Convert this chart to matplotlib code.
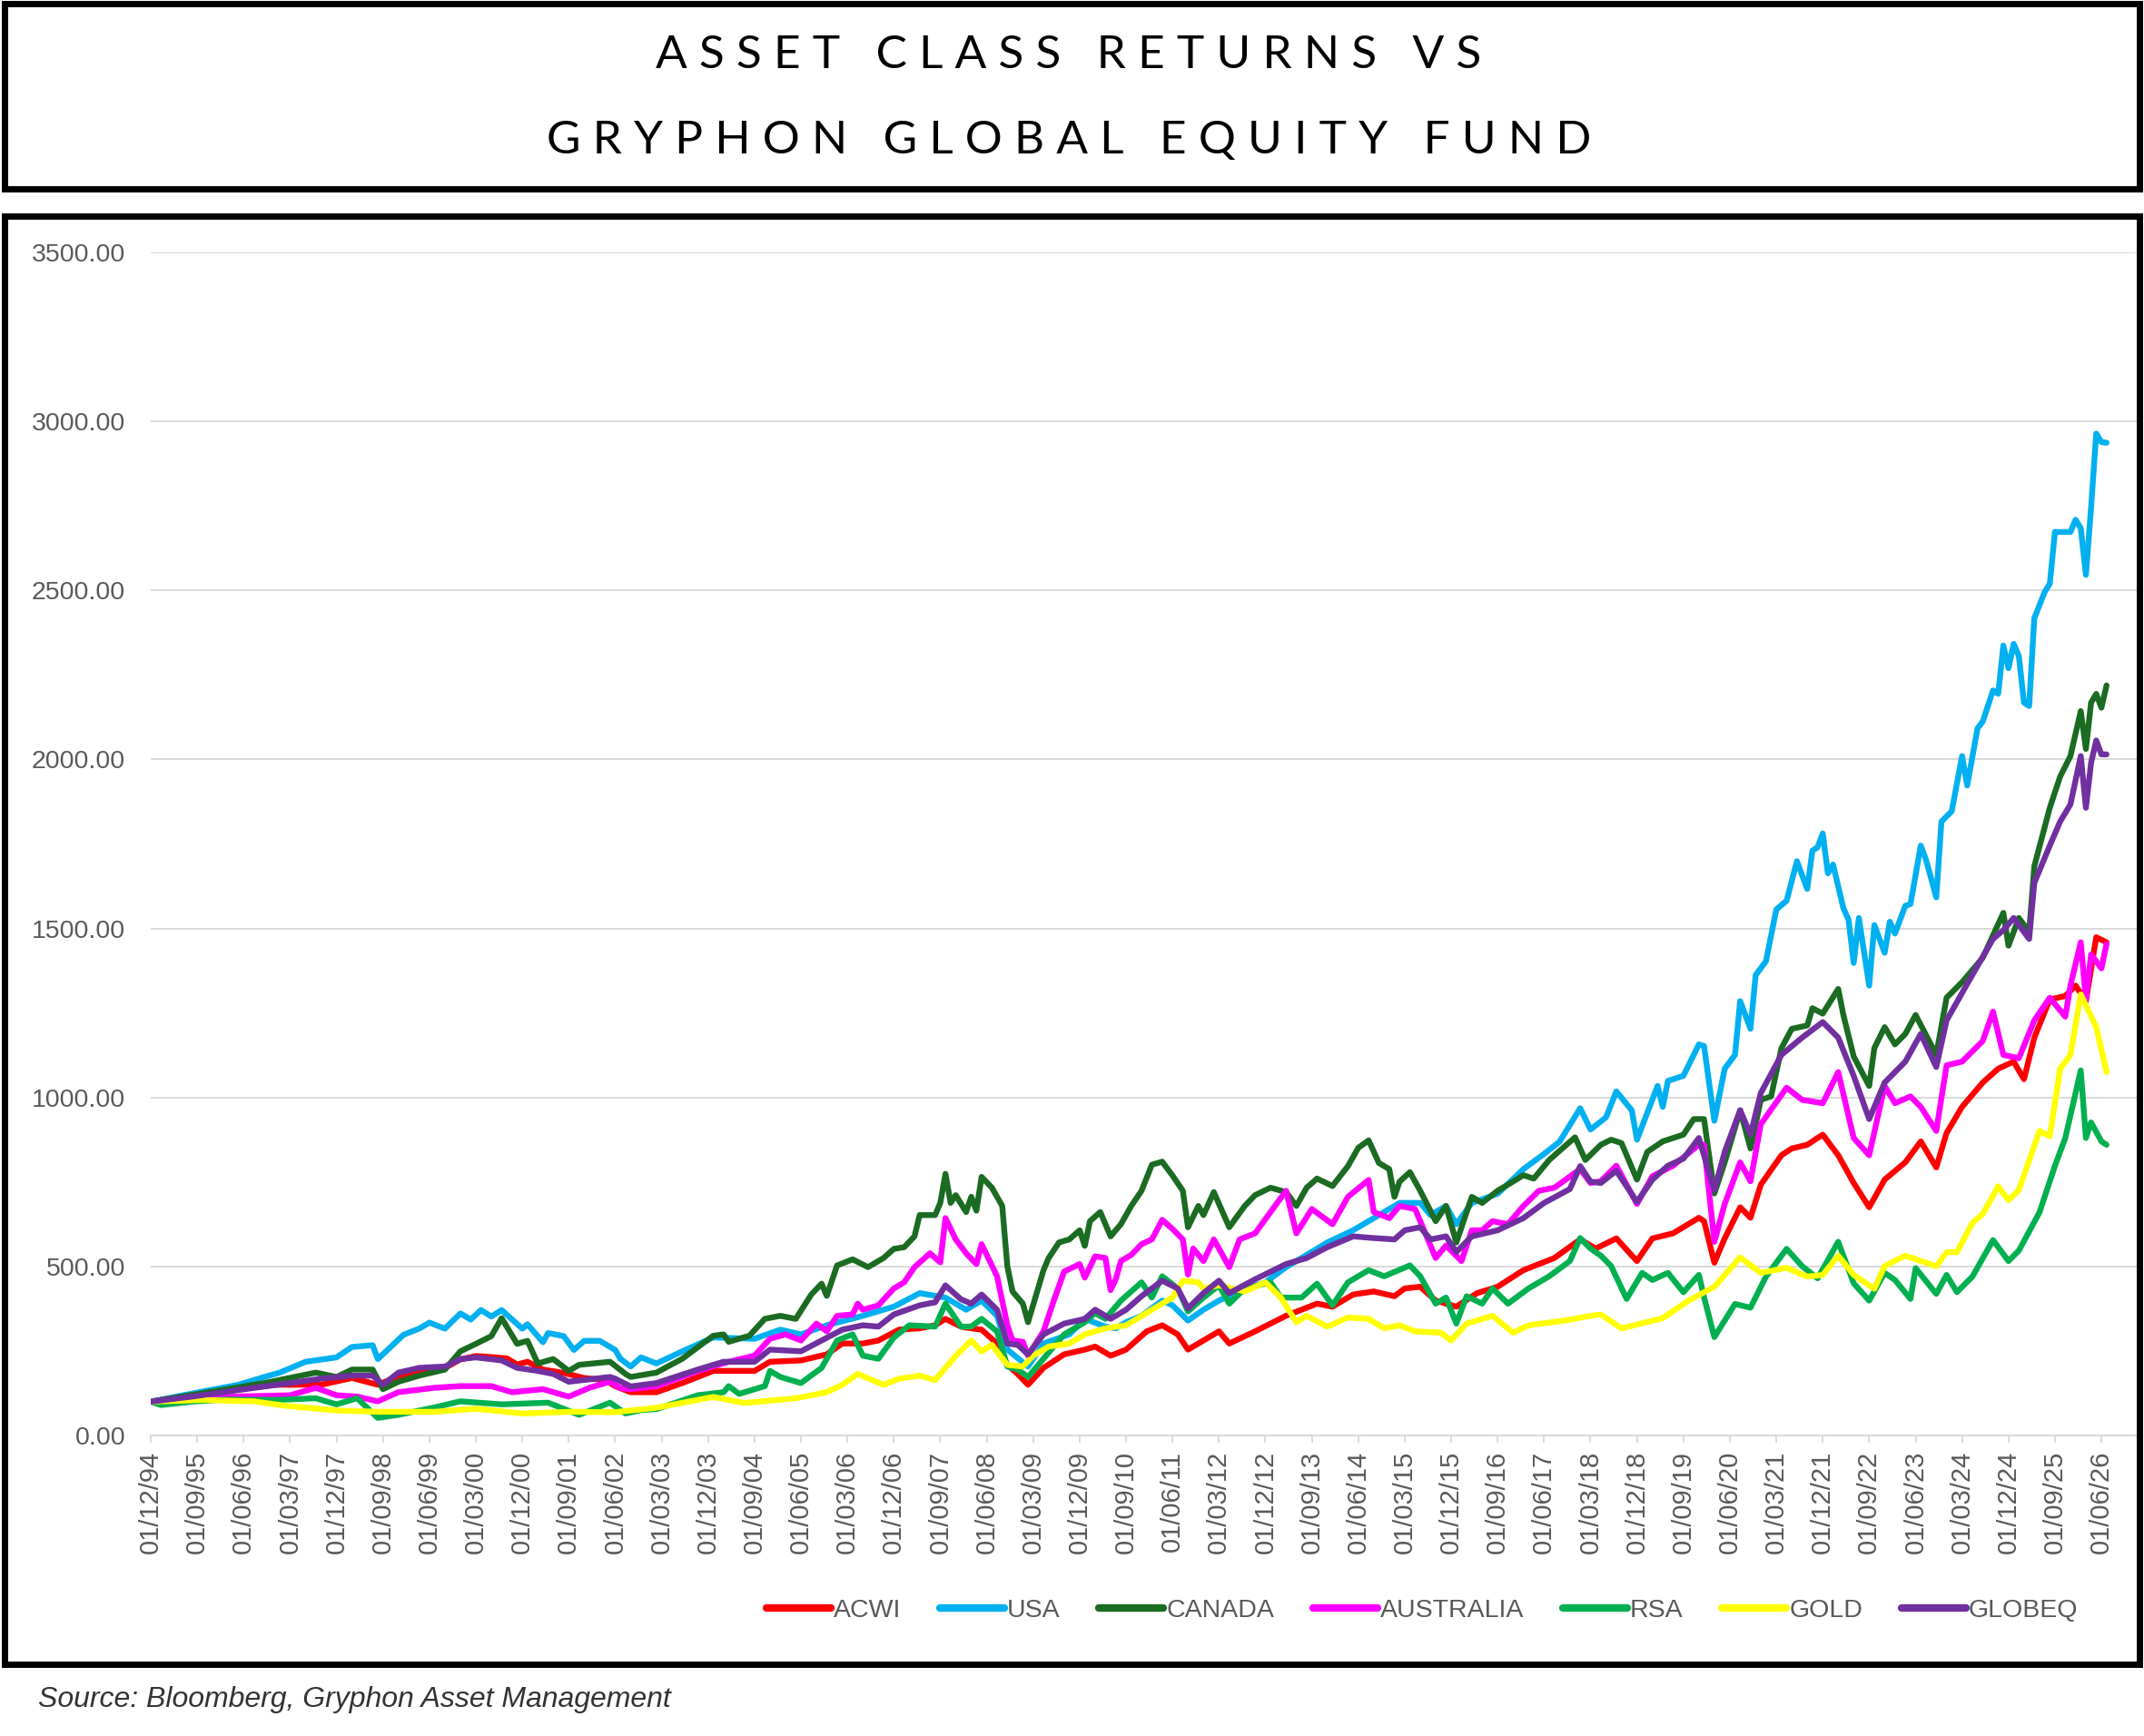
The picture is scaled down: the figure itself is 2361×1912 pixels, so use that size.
import matplotlib
matplotlib.use("Agg")
import matplotlib.pyplot as plt
from matplotlib.patches import Rectangle
from matplotlib.ticker import FuncFormatter

plt.rcParams["font.family"] = ["Liberation Sans", "DejaVu Sans"]

# values, as (months since Dec 1994, index level)
ACWI = [(0, 100), (8, 120), (16, 135), (24, 150), (33, 150), (39, 170), (44, 150), (48, 175),
        (52, 190), (57, 200), (60, 225), (63, 235), (66, 232), (69, 228), (71, 210), (73, 218),
        (76, 195), (80, 185), (84, 170), (88, 164), (90, 146), (93, 128), (98, 128), (103, 155),
        (109, 191), (117, 191), (120, 218), (126, 222), (131, 240), (134, 272), (138, 272),
        (141, 281), (145, 313), (149, 317), (152, 326), (154, 345), (157, 322), (159, 317),
        (161, 313), (164, 272), (166, 209), (168, 182), (170, 150), (173, 200), (177, 240),
        (181, 254), (183, 263), (186, 236), (189, 254), (193, 308), (196, 326), (199, 299),
        (201, 254), (204, 281), (207, 308), (209, 272), (214, 308), (220, 354), (226, 390),
        (229, 381), (233, 417), (237, 426), (241, 412), (243, 435), (246, 440), (249, 399),
        (253, 381), (257, 421), (261, 440), (266, 489), (272, 525), (277, 580), (280, 553),
        (284, 583), (288, 516), (291, 583), (295, 598), (300, 644), (301, 634), (303, 511),
        (305, 583), (308, 675), (310, 644), (312, 742), (316, 829), (318, 849), (321, 860),
        (324, 890), (327, 829), (330, 747), (333, 675), (336, 757), (340, 808), (343, 870),
        (346, 793), (348, 895), (351, 972), (355, 1044), (358, 1085), (361, 1106), (363, 1054),
        (365, 1177), (368, 1290), (371, 1300), (373, 1331), (375, 1285), (377, 1474), (379, 1459)]

USA = [(0, 100), (8, 124), (17, 150), (22, 173), (25, 186), (30, 218), (36, 231), (39, 262),
       (43, 267), (44, 226), (49, 298), (52, 316), (54, 334), (57, 316), (60, 361), (62, 343),
       (64, 371), (66, 352), (68, 371), (72, 316), (73, 329), (76, 276), (77, 303), (80, 294),
       (82, 253), (84, 280), (87, 280), (90, 253), (91, 227), (93, 204), (95, 231), (98, 213),
       (103, 249), (109, 290), (117, 286), (122, 313), (126, 299), (131, 326), (138, 354),
       (144, 381), (149, 421), (154, 408), (158, 372), (161, 399), (164, 354), (166, 254),
       (170, 204), (173, 272), (178, 299), (181, 345), (185, 322), (187, 317), (189, 335),
       (192, 354), (196, 399), (198, 385), (201, 340), (204, 372), (207, 399), (211, 426),
       (216, 453), (220, 498), (223, 525), (228, 571), (233, 607), (237, 643), (242, 688),
       (246, 688), (248, 652), (251, 679), (253, 625), (256, 688), (261, 715), (266, 788),
       (270, 833), (273, 869), (277, 968), (279, 905), (282, 941), (284, 1018), (287, 962),
       (288, 875), (292, 1034), (293, 972), (294, 1049), (297, 1064), (300, 1157), (301, 1152),
       (303, 931), (305, 1085), (307, 1126), (308, 1285), (310, 1203), (311, 1362), (313, 1403),
       (315, 1556), (317, 1582), (319, 1699), (321, 1617), (322, 1730), (323, 1740), (324, 1781),
       (325, 1663), (326, 1689), (328, 1560), (329, 1526), (330, 1398), (331, 1531), (333, 1331),
       (334, 1510), (336, 1428), (337, 1520), (338, 1485), (340, 1567), (341, 1572), (343, 1745),
       (344, 1704), (346, 1592), (347, 1816), (349, 1847), (351, 2010), (352, 1923), (354, 2092),
       (355, 2112), (357, 2204), (358, 2194), (359, 2337), (360, 2270), (361, 2342), (362, 2306),
       (363, 2168), (364, 2158), (365, 2418), (367, 2495), (368, 2520), (369, 2673), (372, 2673),
       (373, 2709), (374, 2684), (375, 2546), (376, 2745), (377, 2964), (378, 2939), (379, 2937)]

CANADA = [(0, 100), (8, 120), (16, 140), (22, 155), (32, 186), (36, 173), (39, 195), (43, 195),
          (45, 137), (48, 159), (52, 177), (57, 195), (60, 249), (63, 271), (66, 294), (68, 347),
          (71, 271), (73, 280), (75, 213), (78, 226), (81, 191), (83, 209), (89, 218), (92, 182),
          (93, 173), (98, 186), (103, 227), (109, 295), (111, 299), (112, 277), (116, 295),
          (119, 345), (122, 354), (125, 345), (128, 417), (130, 449), (131, 413), (133, 503),
          (136, 521), (139, 498), (142, 525), (144, 552), (146, 557), (148, 589), (149, 652),
          (152, 652), (153, 688), (154, 774), (155, 688), (156, 711), (158, 661), (159, 706),
          (160, 665), (161, 765), (163, 733), (165, 679), (166, 500), (167, 426), (169, 390),
          (170, 335), (173, 489), (174, 525), (176, 571), (178, 580), (180, 607), (181, 561),
          (182, 634), (184, 661), (186, 589), (188, 625), (190, 679), (192, 724), (194, 801),
          (196, 810), (198, 769), (200, 724), (201, 616), (203, 679), (204, 652), (206, 720),
          (209, 616), (212, 679), (214, 711), (217, 733), (220, 720), (222, 679), (224, 733),
          (226, 760), (229, 738), (232, 797), (234, 851), (236, 873), (238, 806), (240, 788),
          (241, 706), (242, 751), (244, 779), (246, 724), (249, 634), (251, 679), (253, 571),
          (256, 706), (258, 688), (261, 724), (263, 742), (266, 770), (268, 760), (271, 815),
          (273, 842), (276, 882), (278, 815), (281, 860), (283, 875), (285, 865), (288, 757),
          (290, 839), (293, 870), (297, 890), (299, 936), (301, 936), (303, 716), (305, 808),
          (308, 962), (310, 849), (312, 993), (314, 1003), (316, 1146), (318, 1203), (321, 1213),
          (322, 1264), (324, 1248), (327, 1321), (328, 1244), (330, 1121), (333, 1034), (334, 1146),
          (336, 1208), (338, 1157), (340, 1188), (342, 1244), (346, 1126), (348, 1295), (351, 1341),
          (355, 1413), (359, 1546), (360, 1449), (362, 1531), (364, 1490), (365, 1684), (368, 1857),
          (370, 1949), (372, 2010), (374, 2143), (375, 2031), (376, 2168), (377, 2194), (378, 2153),
          (379, 2219)]

AUSTRALIA = [(0, 100), (8, 108), (16, 115), (24, 118), (27, 119), (32, 141), (36, 119), (40, 115),
             (44, 101), (48, 128), (55, 141), (60, 146), (66, 146), (70, 128), (76, 137), (81, 115),
             (85, 141), (89, 159), (91, 140), (93, 137), (98, 146), (106, 191), (112, 218), (117, 236),
             (120, 286), (123, 299), (126, 281), (129, 331), (131, 308), (133, 354), (136, 358),
             (137, 390), (138, 372), (141, 385), (144, 435), (146, 453), (148, 498), (151, 539),
             (153, 512), (154, 643), (156, 580), (158, 539), (160, 507), (161, 566), (164, 471),
             (166, 326), (167, 281), (169, 277), (170, 236), (173, 308), (175, 399), (177, 485),
             (180, 507), (181, 467), (183, 530), (185, 525), (186, 430), (187, 462), (188, 516),
             (190, 534), (192, 566), (194, 580), (196, 638), (198, 611), (200, 580), (201, 476),
             (202, 553), (204, 516), (206, 580), (207, 553), (209, 498), (211, 580), (214, 598),
             (217, 661), (220, 724), (222, 598), (225, 670), (229, 625), (232, 706), (236, 756),
             (237, 661), (240, 643), (242, 679), (245, 670), (246, 634), (249, 525), (251, 562),
             (254, 516), (256, 607), (258, 607), (260, 634), (263, 625), (266, 679), (269, 724),
             (272, 733), (277, 788), (279, 747), (281, 752), (284, 798), (288, 685), (291, 767),
             (295, 798), (300, 860), (301, 860), (303, 573), (305, 685), (308, 808), (310, 752),
             (312, 921), (317, 1029), (320, 993), (324, 983), (327, 1075), (330, 880), (333, 829),
             (336, 1034), (338, 983), (341, 1003), (343, 972), (346, 901), (348, 1095), (351, 1106),
             (355, 1167), (357, 1254), (359, 1126), (362, 1116), (365, 1228), (368, 1295),
             (371, 1239), (372, 1331), (374, 1459), (375, 1290), (376, 1423), (378, 1382), (379, 1454)]

RSA = [(0, 100), (2, 90), (8, 100), (14, 106), (24, 105), (32, 110), (36, 92), (40, 110), (44, 52),
       (48, 61), (55, 83), (60, 101), (68, 92), (77, 97), (83, 61), (89, 97), (92, 65), (95, 75),
       (98, 78), (106, 119), (111, 128), (112, 146), (114, 123), (119, 146), (120, 191), (122, 173),
       (126, 155), (130, 200), (133, 281), (136, 299), (138, 236), (141, 227), (144, 290),
       (147, 326), (152, 322), (154, 390), (157, 322), (159, 322), (161, 345), (164, 308),
       (166, 204), (168, 195), (170, 173), (173, 227), (177, 299), (181, 335), (183, 362),
       (185, 345), (188, 399), (192, 453), (194, 408), (196, 471), (199, 435), (201, 367),
       (204, 408), (207, 444), (209, 390), (212, 435), (217, 453), (219, 408), (223, 408),
       (226, 449), (229, 385), (232, 453), (236, 489), (239, 471), (244, 503), (246, 471),
       (249, 390), (251, 408), (253, 331), (255, 412), (258, 390), (260, 435), (263, 390),
       (267, 435), (271, 471), (275, 516), (277, 584), (279, 553), (281, 532), (283, 501),
       (286, 404), (289, 481), (291, 460), (294, 481), (297, 424), (300, 475), (301, 409),
       (303, 291), (307, 389), (310, 378), (313, 470), (317, 552), (320, 501), (323, 465),
       (327, 573), (330, 450), (333, 399), (336, 481), (338, 460), (341, 404), (342, 495),
       (346, 419), (348, 475), (350, 424), (353, 470), (357, 578), (360, 516), (362, 547),
       (366, 660), (369, 798), (371, 880), (374, 1080), (375, 880), (376, 926), (378, 870), (379, 860)]

GOLD = [(0, 100), (10, 105), (20, 101), (26, 88), (36, 74), (44, 70), (55, 70), (63, 79), (72, 65),
        (81, 70), (90, 69), (98, 82), (109, 114), (115, 96), (125, 110), (131, 128), (134, 150),
        (137, 182), (142, 150), (145, 168), (149, 177), (152, 164), (156, 236), (159, 281),
        (161, 249), (163, 268), (166, 209), (169, 204), (171, 236), (174, 263), (178, 272),
        (181, 299), (185, 317), (189, 326), (194, 372), (198, 408), (200, 458), (203, 453),
        (204, 435), (207, 444), (212, 426), (216, 453), (219, 408), (222, 335), (224, 354),
        (228, 322), (232, 349), (236, 345), (239, 317), (242, 326), (245, 308), (250, 304),
        (252, 281), (255, 331), (260, 354), (264, 304), (267, 326), (274, 340), (279, 354),
        (281, 358), (285, 317), (293, 347), (298, 399), (303, 440), (308, 527), (312, 481),
        (317, 496), (321, 470), (324, 475), (327, 532), (330, 475), (334, 434), (336, 501),
        (340, 532), (343, 516), (346, 501), (348, 542), (350, 542), (353, 629), (355, 655),
        (358, 737), (360, 696), (362, 726), (366, 901), (368, 885), (370, 1085), (372, 1126),
        (374, 1305), (377, 1208), (379, 1075)]

GLOBEQ = [(0, 100), (8, 115), (14, 128), (22, 145), (27, 155), (33, 168), (39, 177), (43, 177),
          (45, 150), (48, 186), (52, 200), (57, 204), (60, 226), (63, 231), (68, 222), (71, 200),
          (75, 191), (78, 182), (81, 159), (89, 173), (90, 168), (93, 145), (98, 155), (106, 195),
          (111, 218), (117, 218), (120, 254), (126, 249), (130, 281), (134, 313), (138, 326),
          (141, 322), (144, 358), (149, 385), (152, 394), (154, 444), (157, 403), (159, 390),
          (161, 417), (164, 372), (166, 272), (168, 268), (170, 240), (173, 299), (177, 331),
          (181, 345), (183, 372), (186, 345), (189, 372), (192, 412), (196, 458), (199, 435),
          (201, 376), (204, 421), (207, 458), (209, 421), (214, 462), (220, 507), (224, 525),
          (228, 557), (233, 589), (237, 584), (241, 580), (243, 607), (246, 616), (248, 580),
          (251, 589), (253, 543), (256, 589), (261, 607), (266, 643), (270, 688), (275, 729),
          (277, 797), (279, 751), (281, 747), (284, 783), (288, 691), (291, 757), (294, 798),
          (297, 819), (300, 880), (303, 726), (305, 839), (308, 962), (310, 890), (312, 1013),
          (316, 1126), (320, 1177), (324, 1223), (327, 1177), (330, 1064), (333, 936), (336, 1044),
          (340, 1106), (343, 1188), (346, 1090), (348, 1228), (352, 1336), (357, 1469), (359, 1495),
          (361, 1531), (364, 1469), (365, 1635), (368, 1745), (370, 1816), (372, 1867), (374, 2010),
          (375, 1857), (376, 1990), (377, 2056), (378, 2015), (379, 2015)]

SERIES = ["ACWI", "USA", "CANADA", "AUSTRALIA", "RSA", "GOLD", "GLOBEQ"]
DATA = [ACWI, USA, CANADA, AUSTRALIA, RSA, GOLD, GLOBEQ]
COLORS = ["#FF0000", "#00B0F0", "#1B6B22", "#FF00FF", "#00B050", "#FFFF00", "#7030A0"]

TICK_LABELS = ["01/12/94", "01/09/95", "01/06/96", "01/03/97", "01/12/97", "01/09/98", "01/06/99",
               "01/03/00", "01/12/00", "01/09/01", "01/06/02", "01/03/03", "01/12/03", "01/09/04",
               "01/06/05", "01/03/06", "01/12/06", "01/09/07", "01/06/08", "01/03/09", "01/12/09",
               "01/09/10", "01/06/11", "01/03/12", "01/12/12", "01/09/13", "01/06/14", "01/03/15",
               "01/12/15", "01/09/16", "01/06/17", "01/03/18", "01/12/18", "01/09/19", "01/06/20",
               "01/03/21", "01/12/21", "01/09/22", "01/06/23", "01/03/24", "01/12/24", "01/09/25",
               "01/06/26"]
TICK_STEP = 9  # one label every 9 months

TITLE_1 = "ASSET CLASS RETURNS VS"
TITLE_2 = "GRYPHON GLOBAL EQUITY FUND"
SOURCE = "Source: Bloomberg, Gryphon Asset Management"

W, H = 2361, 1912
GRID = "#D9D9D9"
TEXT = "#595959"


def spaced(text):
    return "   ".join(" ".join(word) for word in text.split())


def fx(px):
    return px / W


def fy(px):
    return 1 - px / H


fig = plt.figure(figsize=(W / 100, H / 100), dpi=100)

ax = fig.add_axes([fx(166), fy(1581), fx(2355 - 166), (1581 - 278) / H])
for name, pts, color in zip(SERIES, DATA, COLORS):
    months = [p[0] for p in pts]
    values = [p[1] for p in pts]
    ax.plot(months, values, color=color, lw=4.6, label=name,
            solid_joinstyle="round", solid_capstyle="round")

ax.set_xlim(0, 385.2)
ax.set_ylim(0, 3500)
ax.set_yticks(range(0, 3501, 500))
ax.yaxis.set_major_formatter(FuncFormatter(lambda v, _: f"{v:.2f}"))
ax.set_xticks([i * TICK_STEP for i in range(len(TICK_LABELS))])
ax.set_xticklabels(TICK_LABELS, rotation=90)
ax.yaxis.grid(True, color=GRID, lw=1.4)
ax.set_axisbelow(True)
for side in ["left", "right", "top"]:
    ax.spines[side].set_visible(False)
ax.spines["bottom"].set_color(GRID)
ax.spines["bottom"].set_linewidth(1.6)
ax.tick_params(axis="y", length=0, pad=20, labelsize=20.5, labelcolor=TEXT)
ax.tick_params(axis="x", length=6, width=1.3, color=GRID, pad=6, labelsize=21, labelcolor=TEXT)

leg = fig.legend(*ax.get_legend_handles_labels(), loc="center", bbox_to_anchor=(fx(1566), fy(1774)),
                 ncol=7, frameon=False, fontsize=20.5, labelcolor=TEXT, handlelength=2.5,
                 handletextpad=0.1, columnspacing=1.5)
for line in leg.get_lines():
    line.set_linewidth(6)

# boxed title and chart frame
fig.add_artist(Rectangle((fx(5), fy(208)), fx(2351), (208 - 4) / H, transform=fig.transFigure,
                         fill=False, ec="black", lw=5, zorder=10))
fig.add_artist(Rectangle((fx(5), fy(1833)), fx(2351), (1833 - 238) / H, transform=fig.transFigure,
                         fill=False, ec="black", lw=5, zorder=10))

fig.text(0.4985, fy(61), spaced(TITLE_1), ha="center", va="center", fontsize=37, family="Lato",
         color="black")
fig.text(0.4985, fy(155), spaced(TITLE_2), ha="center", va="center", fontsize=37, family="Lato",
         color="black")
fig.text(fx(42), fy(1872), SOURCE, ha="left", va="center", fontsize=23, style="italic", color="#333333")

fig.savefig("out.png", dpi=100)
